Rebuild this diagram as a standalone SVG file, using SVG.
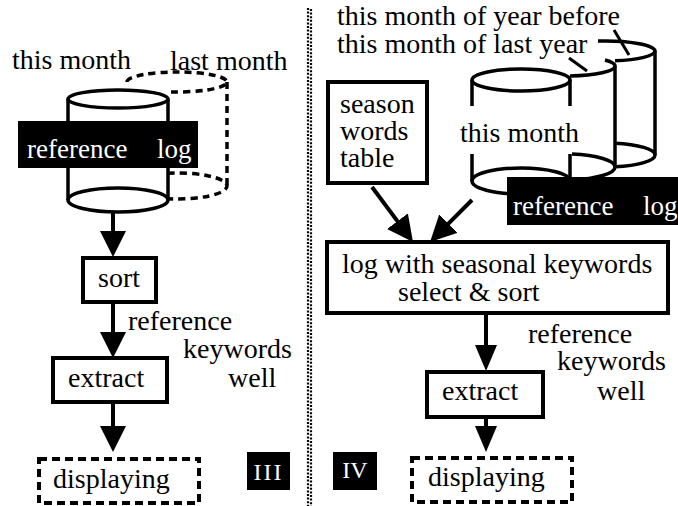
<svg xmlns="http://www.w3.org/2000/svg" width="678" height="506" viewBox="0 0 678 506">
<defs>
<style>
text{font-family:"Liberation Serif","Times New Roman",serif;font-size:28px;fill:#000}
.lbl{fill:#fff;font-size:27px}
.num{fill:#fff;font-size:24px}
.box{fill:#fff;stroke:#000;stroke-width:4}
.dbox{fill:#fff;stroke:#000;stroke-width:4;stroke-dasharray:8 5}
.cyl{fill:none;stroke:#000;stroke-width:3.5}
.dcyl{fill:none;stroke:#000;stroke-width:3.5;stroke-dasharray:7 5}
.ln{fill:none;stroke:#000;stroke-width:3}
.arr{stroke:#000;stroke-width:4;fill:none}
.sep{stroke:#000;stroke-width:2.2;stroke-dasharray:2 1.6}
</style>
<marker id="ah" viewBox="0 0 26 26" refX="18" refY="13" markerWidth="26" markerHeight="26" markerUnits="userSpaceOnUse" orient="auto"><path d="M0,0 L26,13 L0,26 Z" fill="#000"/></marker>
<marker id="ahs" viewBox="0 0 26 22" refX="18" refY="11" markerWidth="26" markerHeight="22" markerUnits="userSpaceOnUse" orient="auto"><path d="M0,0 L26,11 L0,22 Z" fill="#000"/></marker>
</defs>
<rect width="678" height="506" fill="#fff"/>

<g id="separator">
<line class="sep" x1="308" y1="8" x2="308" y2="506"/>
<line class="sep" x1="311" y1="9" x2="311" y2="506"/>
</g>

<!-- Panel III -->
<g id="left-log-lastmonth">
<path class="dcyl" d="M127,82 A50 10 0 0 1 227,82 A50 10 0 0 1 168,91.8"/>
<path class="dcyl" d="M227,82 V186"/>
<path class="dcyl" d="M168,173.2 A50 13 0 0 1 227,186 A50 13 0 0 1 168,198.8"/>
</g>
<g id="left-log-thismonth">
<path d="M68,99 V200 A50 12 0 0 0 168,200 V99 A50 9 0 0 0 68,99 Z" fill="#fff"/>
<ellipse class="cyl" cx="118" cy="99" rx="50" ry="9"/>
<ellipse class="cyl" cx="118" cy="200" rx="50" ry="12"/>
<path class="cyl" d="M68,99 V200 M168,99 V200"/>
<rect x="18" y="121" width="180" height="47" fill="#000"/>
<text class="lbl" x="27" y="158">reference<tspan x="157">log</tspan></text>
</g>
<g id="left-captions">
<text x="12" y="69">this month</text>
<text x="170" y="70">last month</text>
</g>
<g id="left-sort">
<rect class="box" x="83" y="258" width="73" height="44"/>
<text x="98" y="287">sort</text>
</g>
<g id="left-extract">
<rect class="box" x="53" y="358" width="114" height="44"/>
<text x="68" y="387">extract</text>
</g>
<g id="left-displaying">
<rect class="dbox" x="39" y="459" width="160" height="44"/>
<text x="53" y="488">displaying</text>
</g>
<g id="left-keywords-label">
<text x="128" y="330">reference</text>
<text x="183" y="358">keywords</text>
<text x="228" y="387">well</text>
</g>
<g id="label-III">
<rect x="247" y="452" width="43" height="38" fill="#000"/>
<text class="num" x="268.5" y="480" text-anchor="middle" letter-spacing="2">III</text>
</g>

<!-- Panel IV -->
<g id="right-captions">
<text x="337" y="25">this month of year before</text>
<text x="337" y="53">this month of last year</text>
<path class="ln" d="M614,30 L629,55 M569,58 L587,71"/>
</g>
<g id="right-log-yearbefore">
<path class="cyl" d="M598,41.1 A50 10 0 0 1 655,51 A50 10 0 0 1 615,60.8"/>
<path class="cyl" d="M655,51 V155"/>
<path class="cyl" d="M615,143.2 A50 12 0 0 1 655,155 A50 12 0 0 1 615,166.8"/>
</g>
<g id="right-log-lastyear">
<path class="cyl" d="M570,76 A50 10 0 0 0 615,66 M605,60 A50 10 0 0 1 615,66"/>
<path class="cyl" d="M615,66 V167"/>
<path class="cyl" d="M572,154.1 A50 13 0 0 1 615,167 A50 13 0 0 1 572,179.9"/>
</g>
<g id="right-log-thismonth">
<ellipse class="cyl" cx="521" cy="80" rx="49" ry="11"/>
<ellipse class="cyl" cx="521" cy="181" rx="49" ry="13"/>
<path class="cyl" d="M472,80 V106 M570,80 V106 M472,154 V181 M570,154 V181"/>
<text x="460" y="142">this month</text>
<rect x="507" y="177" width="171" height="48" fill="#000"/>
<text class="lbl" x="513" y="215">reference<tspan x="643">log</tspan></text>
</g>
<g id="season-table">
<rect class="box" x="328" y="82" width="99" height="101"/>
<text x="340" y="113">season</text>
<text x="340" y="140">words</text>
<text x="340" y="167">table</text>
</g>
<g id="select-sort">
<rect class="box" x="327" y="242" width="341" height="71"/>
<text x="342" y="273">log with seasonal keywords</text>
<text x="398" y="301">select &amp; sort</text>
</g>
<g id="right-extract">
<rect class="box" x="427" y="372" width="116" height="45"/>
<text x="442" y="400">extract</text>
</g>
<g id="right-displaying">
<rect class="dbox" x="412" y="458" width="160" height="44"/>
<text x="428" y="486">displaying</text>
</g>
<g id="right-keywords-label">
<text x="528" y="343">reference</text>
<text x="557" y="370">keywords</text>
<text x="597" y="400">well</text>
</g>
<g id="label-IV">
<rect x="333" y="452" width="44" height="38" fill="#000"/>
<text class="num" x="355" y="478" text-anchor="middle">IV</text>
</g>

<g id="connectors">
<line class="arr" x1="113" y1="212" x2="113" y2="249" marker-end="url(#ah)"/>
<line class="arr" x1="113" y1="302" x2="113" y2="350" marker-end="url(#ah)"/>
<line class="arr" x1="113" y1="402" x2="113" y2="444" marker-end="url(#ah)"/>
<line class="arr" x1="372" y1="187" x2="408.2" y2="235.6" marker-end="url(#ah)"/>
<line class="arr" x1="472" y1="200" x2="435.7" y2="236.3" marker-end="url(#ah)"/>
<line class="arr" x1="486" y1="313" x2="486" y2="363" marker-end="url(#ahs)"/>
<line class="arr" x1="486" y1="417" x2="486" y2="444" marker-end="url(#ahs)"/>
</g>
</svg>
